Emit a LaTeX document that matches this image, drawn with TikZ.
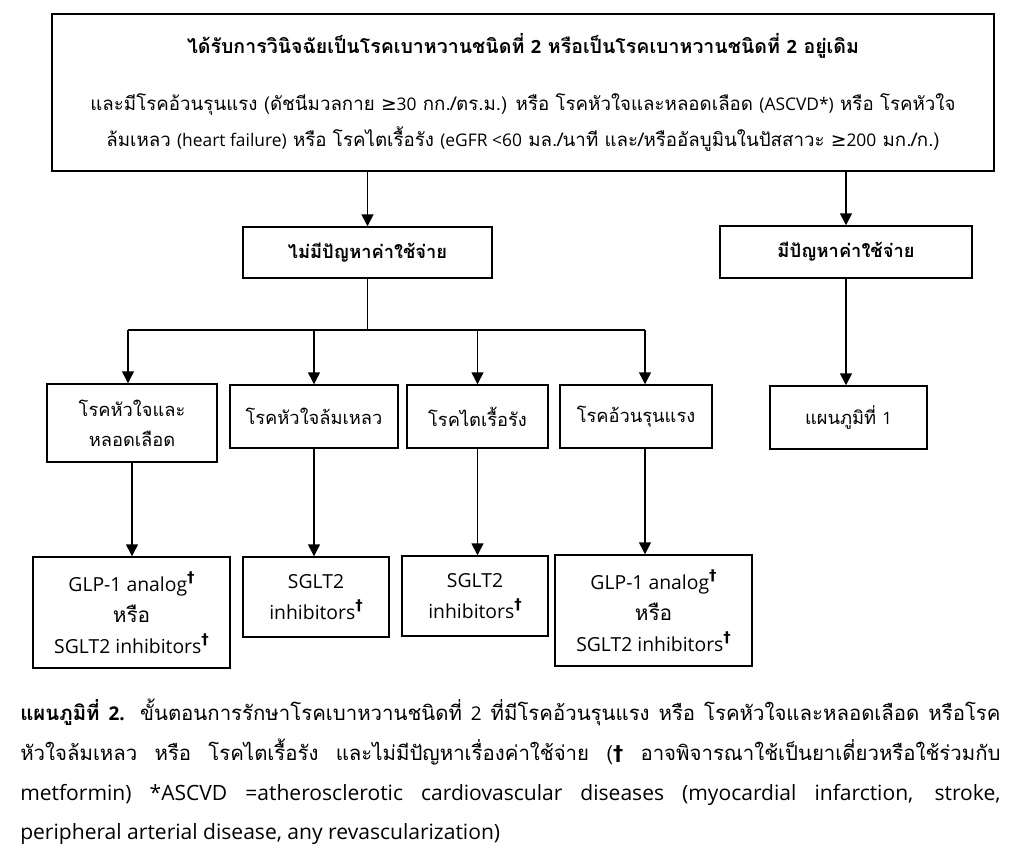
\documentclass[tikz,border=0pt]{standalone}
\usepackage{fontspec}
\setmainfont[Script=Thai]{Loma}
\newfontfamily\symfont{DejaVu Sans}
\newfontfamily\latfont[Scale=0.93]{Open Sans}
\usetikzlibrary{arrows.meta}
\usetikzlibrary{positioning}

\newcommand{\px}{0.025cm}
\newcommand{\lat}[1]{{\latfont #1}}
\newcommand{\dg}{\raisebox{0.42em}{\fontsize{10.5}{10}\selectfont\symfont\bfseries †}}
\newcommand{\gteq}{{\symfont ≥}}

\begin{document}
\begin{tikzpicture}[x=0.025cm,y=-0.025cm]
      \tikzstyle{every node}=[font=\fontsize{13}{21.5}\selectfont]
      \tikzstyle{box}=[draw,line width=1.05pt,align=center,inner sep=0pt]
      \tikzstyle{drug}=[box,font=\fontsize{14.8}{22}\selectfont]
      \tikzstyle{arr}=[-{Triangle[length=8.5pt,width=8.5pt]},line width=1.05pt]
      \useasboundingbox (0,0) rectangle (1031,864);

      % top box
      \node[box,minimum width=942*\px,minimum height=157*\px,font=\fontsize{13.3}{25.5}\selectfont] (top) at (523,92.5)
        {{\fontsize{13.9}{25.5}\selectfont\bfseries ได้รับการวินิจฉัยเป็นโรคเบาหวานชนิดที่ \lat{2} หรือเป็นโรคเบาหวานชนิดที่ \lat{2} อยู่เดิม}\\[15pt]
         และมีโรคอ้วนรุนแรง (ดัชนีมวลกาย \gteq\lat{30} กก./ตร.ม.) หรือ โรคหัวใจและหลอดเลือด \lat{(ASCVD*)} หรือ โรคหัวใจ\\
         ล้มเหลว \lat{(heart failure)} หรือ โรคไตเรื้อรัง \lat{(eGFR <60} มล./นาที และ/หรืออัลบูมินในปัสสาวะ \gteq\lat{200} มก./ก.)};

      % cost
      \node[box,minimum width=249*\px,minimum height=51*\px] (nocost) at (367.5,252.5) {\textbf{ไม่มีปัญหาค่าใช้จ่าย}};
      \node[box,minimum width=252*\px,minimum height=52*\px] (cost)   at (846,252)     {\textbf{มีปัญหาค่าใช้จ่าย}};

      % diseases
      \node[box,minimum width=170*\px,minimum height=78*\px] (heart)  at (132,423)   {โรคหัวใจและ\\หลอดเลือด};
      \node[box,minimum width=168*\px,minimum height=63*\px] (hf)     at (314,416.5) {โรคหัวใจล้มเหลว};
      \node[box,minimum width=141*\px,minimum height=63*\px] (ckd)    at (477.5,416.5) {โรคไตเรื้อรัง};
      \node[box,minimum width=152*\px,minimum height=63*\px] (obese)  at (636,416.5) {โรคอ้วนรุนแรง};
      \node[box,minimum width=157*\px,minimum height=63*\px] (chart1) at (848.5,417.5) {แผนภูมิที่ \lat{1}};

      % drugs
      \node[drug,minimum width=197*\px,minimum height=111*\px] (drugA) at (131.5,612.5) {\lat{GLP-1 analog}\dg\\หรือ\\\lat{SGLT2 inhibitors}\dg};
      \node[drug,minimum width=146*\px,minimum height=80*\px]  (drugB) at (316,597)     {\lat{SGLT2}\\\lat{inhibitors}\dg};
      \node[drug,minimum width=146*\px,minimum height=80*\px]  (drugC) at (475,596)     {\lat{SGLT2}\\\lat{inhibitors}\dg};
      \node[drug,minimum width=197*\px,minimum height=111*\px] (drugD) at (653.5,610.5) {\lat{GLP-1 analog}\dg\\หรือ\\\lat{SGLT2 inhibitors}\dg};

      \coordinate (busL) at (128,330);
      \coordinate (busR) at (645,330);

      \draw[arr] (top.south -| nocost.north) -- (nocost.north);
      \draw[arr] (top.south -| cost.north)   -- (cost.north);
      \draw[line width=1.05pt] (nocost.south) -- (nocost.south |- busL);
      \draw[line width=1.05pt] (busL) -- (busR);
      \draw[arr] (busL) -- (busL |- heart.north);
      \draw[arr] (busL -| hf.north) -- (hf.north);
      \draw[arr] (busL -| ckd.north) -- (ckd.north);
      \draw[arr] (busR) -- (busR |- obese.north);
      \draw[arr] (cost.south) -- (chart1.north -| cost.south);

      \draw[arr] (heart.south) -- (drugA.north -| heart.south);
      \draw[arr] (hf.south)    -- (drugB.north -| hf.south);
      \draw[arr] (ckd.south)   -- (drugC.north -| ckd.south);
      \draw[arr] (obese.south -| busR) -- (drugD.north -| busR);

      % caption
      \node[anchor=north west,text width=980*\px,align=left,inner sep=0pt,font=\fontsize{14.5}{28.2}\selectfont] (caption) at (20,699)
        {\spaceskip=0pt \xspaceskip=0pt
         \hbox to 24.5cm{\textbf{แผนภูมิที่ \lat{2.}} ขั้นตอนการรักษาโรคเบาหวานชนิดที่ \lat{2} ที่มีโรคอ้วนรุนแรง หรือ โรคหัวใจและหลอดเลือด หรือโรค}
         \hbox to 24.5cm{หัวใจล้มเหลว หรือ โรคไตเรื้อรัง และไม่มีปัญหาเรื่องค่าใช้จ่าย ({\symfont\bfseries †} อาจพิจารณาใช้เป็นยาเดี่ยวหรือใช้ร่วมกับ}
         \hbox to 24.5cm{\fontsize{16.1}{28.2}\selectfont\latfont metformin) *ASCVD =atherosclerotic cardiovascular diseases (myocardial infarction, stroke,}
         \hbox{\fontsize{16.1}{28.2}\selectfont\latfont peripheral arterial disease, any revascularization)}};
\end{tikzpicture}
\end{document}
